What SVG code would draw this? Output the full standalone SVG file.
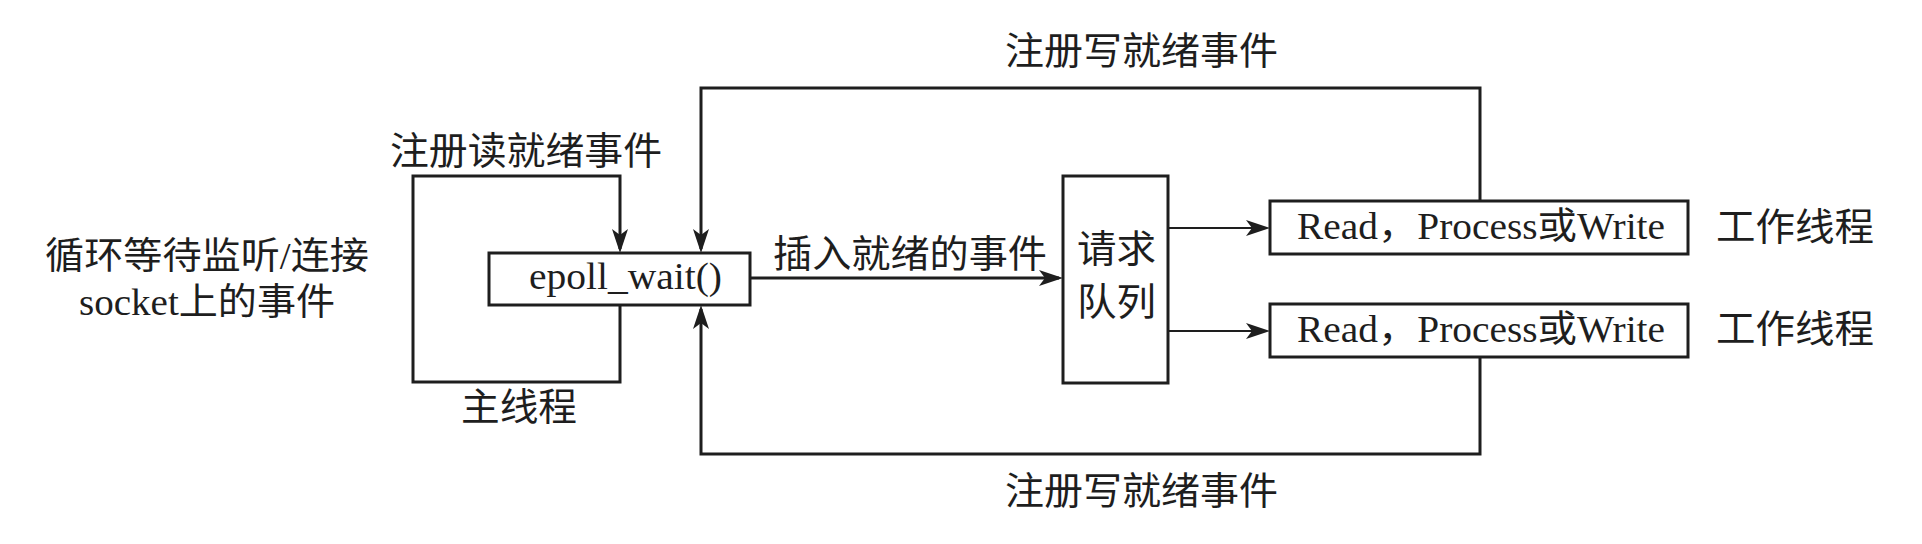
<svg xmlns="http://www.w3.org/2000/svg" width="1922" height="544" viewBox="0 0 1922 544">
<style>
.bg{fill:#ffffff}
.box{fill:#ffffff;stroke:#1e1e1e;stroke-width:3}
.ln{fill:none;stroke:#1e1e1e;stroke-width:3}
.ln2{fill:none;stroke:#1e1e1e;stroke-width:2.2}
.cj{font-family:"Noto Sans CJK SC","Liberation Sans",sans-serif;font-size:38px;fill:#1e1e1e}
.mx{font-family:"Liberation Serif","Noto Sans CJK SC",serif;font-size:37px;fill:#1e1e1e}
</style>
<defs>
<marker id="ah" viewBox="0 0 24 16" refX="20" refY="8" markerWidth="24" markerHeight="16" markerUnits="userSpaceOnUse" orient="auto">
<path d="M0,0 L24,8 L0,16 L6,8 Z" fill="#1e1e1e"/>
</marker>
</defs>
<rect class="bg" x="0" y="0" width="1922" height="544"/>
<g id="connectors">
<path class="ln" d="M620,305 V382 H413 V176 H620 V249" marker-end="url(#ah)"/>
<path class="ln" d="M750,278 H1059" marker-end="url(#ah)"/>
<path class="ln2" d="M1168,228 H1266" marker-end="url(#ah)"/>
<path class="ln2" d="M1168,331 H1266" marker-end="url(#ah)"/>
<path class="ln" d="M1480,201 V88 H701 V249" marker-end="url(#ah)"/>
<path class="ln" d="M1480,357 V454 H701 V309" marker-end="url(#ah)"/>
</g>
<g id="label-left">
<text class="mx" x="45" y="269" textLength="324" lengthAdjust="spacingAndGlyphs" font-size="39">循环等待监听/连接</text>
<text class="mx" x="79" y="315" textLength="256" lengthAdjust="spacingAndGlyphs" font-size="39">socket上的事件</text>
</g>
<g id="node-epoll">
<rect class="box" x="489" y="253" width="261" height="52"/>
<text class="mx" x="529" y="289" textLength="193" lengthAdjust="spacingAndGlyphs">epoll_wait()</text>
</g>
<g id="label-register-read">
<text class="cj" x="390" y="164" textLength="272" lengthAdjust="spacingAndGlyphs">注册读就绪事件</text>
</g>
<g id="label-main-thread">
<text class="cj" x="461" y="420" textLength="116" lengthAdjust="spacingAndGlyphs">主线程</text>
</g>
<g id="label-insert">
<text class="cj" x="773" y="267" textLength="274" lengthAdjust="spacingAndGlyphs">插入就绪的事件</text>
</g>
<g id="label-register-write-top">
<text class="cj" x="1005" y="64" textLength="273" lengthAdjust="spacingAndGlyphs">注册写就绪事件</text>
</g>
<g id="label-register-write-bottom">
<text class="cj" x="1005" y="504" textLength="273" lengthAdjust="spacingAndGlyphs">注册写就绪事件</text>
</g>
<g id="node-queue">
<rect class="box" x="1063" y="176" width="105" height="207"/>
<text class="cj" font-size="34" x="1077" y="262" textLength="79" lengthAdjust="spacingAndGlyphs">请求</text>
<text class="cj" font-size="34" x="1077" y="315" textLength="79" lengthAdjust="spacingAndGlyphs">队列</text>
</g>
<g id="node-worker-1">
<rect class="box" x="1270" y="201" width="418" height="53"/>
<text class="mx" x="1297" y="239" textLength="368" lengthAdjust="spacingAndGlyphs">Read，Process或Write</text>
<text class="cj" x="1716" y="240" textLength="158" lengthAdjust="spacingAndGlyphs">工作线程</text>
</g>
<g id="node-worker-2">
<rect class="box" x="1270" y="304" width="418" height="53"/>
<text class="mx" x="1297" y="342" textLength="368" lengthAdjust="spacingAndGlyphs">Read，Process或Write</text>
<text class="cj" x="1716" y="342" textLength="158" lengthAdjust="spacingAndGlyphs">工作线程</text>
</g>
</svg>
